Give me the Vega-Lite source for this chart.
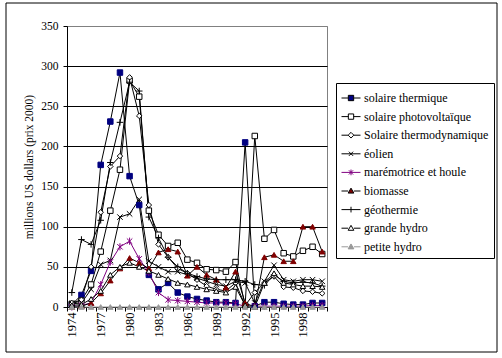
{
  "$schema": "https://vega.github.io/schema/vega-lite/v6.json",
  "width": 260,
  "height": 281,
  "autosize": "none",
  "padding": {"left": 67, "top": 26, "right": 175, "bottom": 51},
  "background": "#ffffff",
  "config": {
    "view": {"stroke": "#808080", "strokeWidth": 1},
    "font": "Liberation Serif",
    "legend": {"labelFont": "Liberation Serif", "titleFont": "Liberation Serif"},
    "axis": {"labelFont": "Liberation Serif", "titleFont": "Liberation Serif"}
  },
  "data": {"values": [
    {"year":1974,"solaire thermique":3,"solaire photovoltaïque":4,"Solaire thermodynamique":5,"éolien":4,"marémotrice et houle":0,"biomasse":0,"géothermie":18,"grande hydro":2,"petite hydro":0},
    {"year":1975,"solaire thermique":15,"solaire photovoltaïque":8,"Solaire thermodynamique":9,"éolien":5,"marémotrice et houle":2,"biomasse":1,"géothermie":84,"grande hydro":3,"petite hydro":0},
    {"year":1976,"solaire thermique":45,"solaire photovoltaïque":28,"Solaire thermodynamique":50,"éolien":22,"marémotrice et houle":5,"biomasse":5,"géothermie":78,"grande hydro":10,"petite hydro":0},
    {"year":1977,"solaire thermique":177,"solaire photovoltaïque":69,"Solaire thermodynamique":118,"éolien":53,"marémotrice et houle":28,"biomasse":17,"géothermie":108,"grande hydro":20,"petite hydro":0},
    {"year":1978,"solaire thermique":231,"solaire photovoltaïque":120,"Solaire thermodynamique":175,"éolien":58,"marémotrice et houle":56,"biomasse":33,"géothermie":180,"grande hydro":40,"petite hydro":0},
    {"year":1979,"solaire thermique":292,"solaire photovoltaïque":171,"Solaire thermodynamique":188,"éolien":112,"marémotrice et houle":75,"biomasse":48,"géothermie":230,"grande hydro":50,"petite hydro":0},
    {"year":1980,"solaire thermique":163,"solaire photovoltaïque":282,"Solaire thermodynamique":286,"éolien":116,"marémotrice et houle":82,"biomasse":61,"géothermie":280,"grande hydro":55,"petite hydro":0},
    {"year":1981,"solaire thermique":127,"solaire photovoltaïque":262,"Solaire thermodynamique":238,"éolien":134,"marémotrice et houle":60,"biomasse":55,"géothermie":269,"grande hydro":50,"petite hydro":0},
    {"year":1982,"solaire thermique":40,"solaire photovoltaïque":120,"Solaire thermodynamique":127,"éolien":57,"marémotrice et houle":43,"biomasse":48,"géothermie":112,"grande hydro":45,"petite hydro":0},
    {"year":1983,"solaire thermique":22,"solaire photovoltaïque":90,"Solaire thermodynamique":78,"éolien":50,"marémotrice et houle":18,"biomasse":68,"géothermie":86,"grande hydro":40,"petite hydro":0},
    {"year":1984,"solaire thermique":30,"solaire photovoltaïque":76,"Solaire thermodynamique":62,"éolien":44,"marémotrice et houle":9,"biomasse":72,"géothermie":62,"grande hydro":35,"petite hydro":0},
    {"year":1985,"solaire thermique":18,"solaire photovoltaïque":80,"Solaire thermodynamique":48,"éolien":44,"marémotrice et houle":8,"biomasse":69,"géothermie":50,"grande hydro":30,"petite hydro":0},
    {"year":1986,"solaire thermique":13,"solaire photovoltaïque":59,"Solaire thermodynamique":42,"éolien":40,"marémotrice et houle":7,"biomasse":39,"géothermie":42,"grande hydro":28,"petite hydro":0},
    {"year":1987,"solaire thermique":10,"solaire photovoltaïque":55,"Solaire thermodynamique":34,"éolien":36,"marémotrice et houle":6,"biomasse":50,"géothermie":38,"grande hydro":25,"petite hydro":0},
    {"year":1988,"solaire thermique":8,"solaire photovoltaïque":47,"Solaire thermodynamique":26,"éolien":32,"marémotrice et houle":5,"biomasse":40,"géothermie":35,"grande hydro":22,"petite hydro":0},
    {"year":1989,"solaire thermique":6,"solaire photovoltaïque":46,"Solaire thermodynamique":22,"éolien":28,"marémotrice et houle":5,"biomasse":34,"géothermie":34,"grande hydro":20,"petite hydro":0},
    {"year":1990,"solaire thermique":6,"solaire photovoltaïque":44,"Solaire thermodynamique":20,"éolien":26,"marémotrice et houle":5,"biomasse":24,"géothermie":34,"grande hydro":18,"petite hydro":0},
    {"year":1991,"solaire thermique":5,"solaire photovoltaïque":56,"Solaire thermodynamique":30,"éolien":32,"marémotrice et houle":4,"biomasse":44,"géothermie":34,"grande hydro":25,"petite hydro":0},
    {"year":1992,"solaire thermique":205,"solaire photovoltaïque":2,"Solaire thermodynamique":2,"éolien":30,"marémotrice et houle":1,"biomasse":5,"géothermie":32,"grande hydro":2,"petite hydro":0},
    {"year":1993,"solaire thermique":1,"solaire photovoltaïque":213,"Solaire thermodynamique":18,"éolien":5,"marémotrice et houle":1,"biomasse":0,"géothermie":28,"grande hydro":0,"petite hydro":0},
    {"year":1994,"solaire thermique":6,"solaire photovoltaïque":85,"Solaire thermodynamique":30,"éolien":32,"marémotrice et houle":1,"biomasse":62,"géothermie":27,"grande hydro":30,"petite hydro":0},
    {"year":1995,"solaire thermique":6,"solaire photovoltaïque":96,"Solaire thermodynamique":38,"éolien":52,"marémotrice et houle":1,"biomasse":65,"géothermie":40,"grande hydro":42,"petite hydro":0},
    {"year":1996,"solaire thermique":4,"solaire photovoltaïque":67,"Solaire thermodynamique":25,"éolien":34,"marémotrice et houle":1,"biomasse":57,"géothermie":32,"grande hydro":30,"petite hydro":0},
    {"year":1997,"solaire thermique":3,"solaire photovoltaïque":63,"Solaire thermodynamique":24,"éolien":32,"marémotrice et houle":1,"biomasse":57,"géothermie":30,"grande hydro":28,"petite hydro":0},
    {"year":1998,"solaire thermique":3,"solaire photovoltaïque":70,"Solaire thermodynamique":20,"éolien":34,"marémotrice et houle":1,"biomasse":100,"géothermie":31,"grande hydro":26,"petite hydro":0},
    {"year":1999,"solaire thermique":5,"solaire photovoltaïque":75,"Solaire thermodynamique":19,"éolien":34,"marémotrice et houle":2,"biomasse":100,"géothermie":30,"grande hydro":26,"petite hydro":0},
    {"year":2000,"solaire thermique":5,"solaire photovoltaïque":66,"Solaire thermodynamique":17,"éolien":32,"marémotrice et houle":2,"biomasse":69,"géothermie":26,"grande hydro":25,"petite hydro":0}
  ]},
  "transform": [
    {"fold": ["solaire thermique","solaire photovoltaïque","Solaire thermodynamique","éolien","marémotrice et houle","biomasse","géothermie","grande hydro","petite hydro"], "as": ["series","value"]}
  ],
  "encoding": {
    "x": {
      "field": "year", "type": "ordinal", "bandPosition": 0.5,
      "scale": {"type": "band", "paddingInner": 0, "paddingOuter": 0},
      "axis": {
        "title": null, "tickBand": "extent", "labelAngle": 270, "labelOverlap": false,
        "labelExpr": "(datum.value - 1974) % 3 == 0 ? datum.label : ''",
        "labelFont": "Liberation Serif", "labelFontSize": 12.5, "labelColor": "#000",
        "tickColor": "#000", "tickSize": 4, "labelPadding": 1,
        "domainColor": "#000", "grid": false
      }
    },
    "y": {
      "field": "value", "type": "quantitative",
      "scale": {"domain": [0, 350], "nice": false, "zero": true},
      "axis": {
        "values": [0, 50, 100, 150, 200, 250, 300, 350],
        "grid": true,
        "gridColor": {"condition": {"test": "datum.value == 350", "value": "#808080"}, "value": "#000000"},
        "gridWidth": 1,
        "domainColor": "#000", "tickColor": "#000", "tickSize": 4, "labelPadding": 5,
        "labelFont": "Liberation Serif", "labelFontSize": 11.5, "labelColor": "#000",
        "title": "millions US dollars (prix 2000)",
        "titleFont": "Liberation Serif", "titleFontSize": 11.5, "titleFontWeight": "normal",
        "titleColor": "#000", "titlePadding": 6
      }
    }
  },
  "layer": [
    {
      "mark": {"type": "line", "strokeWidth": 1},
      "encoding": {
        "detail": {"field": "series"},
        "stroke": {
          "field": "series", "type": "nominal", "legend": null,
          "scale": {
            "domain": ["solaire thermique","solaire photovoltaïque","Solaire thermodynamique","éolien","marémotrice et houle","biomasse","géothermie","grande hydro","petite hydro"],
            "range": ["#000000","#000000","#000000","#000000","#800080","#000000","#000000","#000000","#999999"]
          }
        }
      }
    },
    {
      "mark": {"type": "point", "opacity": 1, "strokeWidth": 1, "size": 30},
      "encoding": {
        "shape": {
          "field": "series", "type": "nominal", "legend": null,
          "scale": {
            "domain": ["solaire thermique","solaire photovoltaïque","Solaire thermodynamique","éolien","marémotrice et houle","biomasse","géothermie","grande hydro","petite hydro"],
            "range": ["square","square","diamond","M-1,-1L1,1M-1,1L1,-1","M-1,-1L1,1M-1,1L1,-1M0,-1.3V1.3","triangle-up","M0,-1.2V1.2M-1.2,0H1.2","triangle-up","triangle-up"]
          }
        },
        "fill": {
          "field": "series", "type": "nominal", "legend": null,
          "scale": {
            "domain": ["solaire thermique","solaire photovoltaïque","Solaire thermodynamique","éolien","marémotrice et houle","biomasse","géothermie","grande hydro","petite hydro"],
            "range": ["#000080","#ffffff","#ffffff","transparent","transparent","#800000","transparent","#ffffff","#999999"]
          }
        },
        "stroke": {
          "field": "series", "type": "nominal", "legend": null,
          "scale": {
            "domain": ["solaire thermique","solaire photovoltaïque","Solaire thermodynamique","éolien","marémotrice et houle","biomasse","géothermie","grande hydro","petite hydro"],
            "range": ["#000080","#000000","#000000","#000000","#800080","#800000","#000000","#000000","#999999"]
          }
        }
      }
    },
    {
      "transform": [{"filter": "datum.value < -1"}],
      "mark": {"type": "point", "opacity": 1, "strokeWidth": 1},
      "encoding": {
        "shape": {
          "field": "series", "type": "nominal",
          "scale": {
            "domain": ["solaire thermique","solaire photovoltaïque","Solaire thermodynamique","éolien","marémotrice et houle","biomasse","géothermie","grande hydro","petite hydro"],
            "range": [
              "M-1,0H-0.28M0.28,0H1M-0.28,-0.28H0.28V0.28H-0.28Z",
              "M-1,0H-0.28M0.28,0H1M-0.28,-0.28H0.28V0.28H-0.28Z",
              "M-1,0H-0.3M0.3,0H1M0,-0.3L0.3,0L0,0.3L-0.3,0Z",
              "M-1,0H1M-0.22,-0.22L0.22,0.22M-0.22,0.22L0.22,-0.22",
              "M-1,0H1M-0.22,-0.22L0.22,0.22M-0.22,0.22L0.22,-0.22M0,-0.3V0.3",
              "M-1,0H-0.3M0.3,0H1M0,-0.3L0.3,0.22H-0.3Z",
              "M-1,0H1M0,-0.3V0.3",
              "M-1,0H-0.3M0.3,0H1M0,-0.3L0.3,0.22H-0.3Z",
              "M-1,0H-0.3M0.3,0H1M0,-0.3L0.3,0.22H-0.3Z"
            ]
          },
          "legend": {
            "title": null, "orient": "none", "legendX": 269, "legendY": 57,
            "strokeColor": "#000000", "fillColor": "#ffffff", "padding": 5,
            "symbolSize": 361, "symbolStrokeWidth": 1, "symbolOpacity": 1,
            "labelFont": "Liberation Serif", "labelFontSize": 12, "labelColor": "#000",
            "labelOffset": 3, "rowPadding": 2.6, "labelLimit": 200
          }
        },
        "fill": {
          "field": "series", "type": "nominal",
          "scale": {
            "domain": ["solaire thermique","solaire photovoltaïque","Solaire thermodynamique","éolien","marémotrice et houle","biomasse","géothermie","grande hydro","petite hydro"],
            "range": ["#000080","#ffffff","#ffffff","transparent","transparent","#800000","transparent","#ffffff","#999999"]
          }
        },
        "stroke": {
          "field": "series", "type": "nominal",
          "scale": {
            "domain": ["solaire thermique","solaire photovoltaïque","Solaire thermodynamique","éolien","marémotrice et houle","biomasse","géothermie","grande hydro","petite hydro"],
            "range": ["#000000","#000000","#000000","#000000","#800080","#000000","#000000","#000000","#999999"]
          }
        }
      }
    },
    {
      "transform": [{"filter": "datum.value < -1"}],
      "mark": {"type": "point", "opacity": 0},
      "encoding": {
        "color": {
          "field": "value", "type": "quantitative",
          "scale": {"domain": [0, 1], "range": ["transparent", "transparent"]},
          "legend": {
            "title": null, "orient": "none", "legendX": -61, "legendY": -23,
            "direction": "horizontal", "type": "gradient",
            "gradientLength": 491, "gradientThickness": 349,
            "gradientStrokeColor": "#000000", "gradientStrokeWidth": 1,
            "padding": 0, "labelExpr": "''", "labelFontSize": 1, "tickCount": 1,
            "labelOpacity": 0
          }
        }
      }
    }
  ],
  "resolve": {"scale": {"shape": "independent", "fill": "independent", "stroke": "independent"}}
}
